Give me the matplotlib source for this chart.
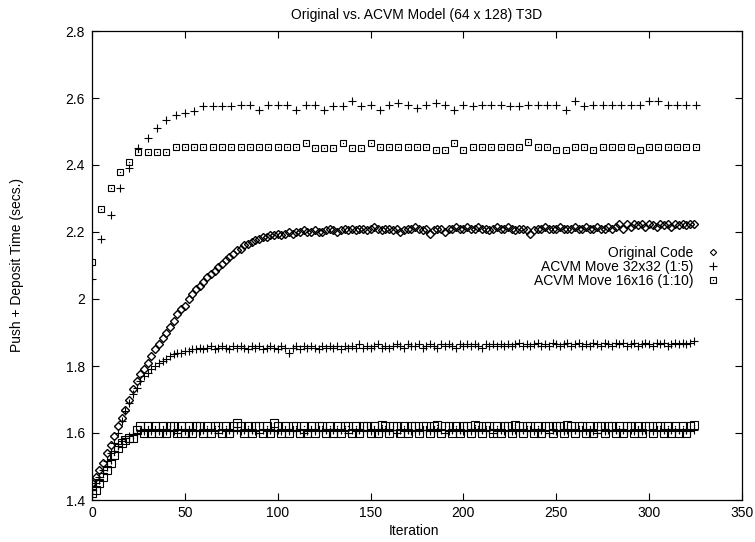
import numpy as np
import matplotlib
matplotlib.use("Agg")
import matplotlib.pyplot as plt
from matplotlib.lines import Line2D

plt.rcParams["font.family"] = ["Liberation Sans", "DejaVu Sans"]

### data
# dense runs are sampled every 2 iterations, the sparse runs every 5
iter_dense = np.arange(0, 326, 2)
iter_sparse = np.arange(0, 330, 5)

original_code = [
    1.45, 1.47, 1.49, 1.51, 1.54, 1.565, 1.59, 1.62, 1.645, 1.67,
    1.70, 1.73, 1.755, 1.775, 1.79, 1.81, 1.83, 1.85, 1.865, 1.885,
    1.90, 1.915, 1.935, 1.955, 1.97, 1.98, 2.00, 2.015, 2.03, 2.04,
    2.05, 2.065, 2.075, 2.085, 2.095, 2.105, 2.115, 2.125, 2.135, 2.145,
    2.15, 2.16, 2.165, 2.17, 2.175, 2.18, 2.185, 2.185, 2.19, 2.19,
    2.195, 2.19, 2.195, 2.20, 2.195, 2.20, 2.20, 2.205, 2.20, 2.20,
    2.205, 2.20, 2.20, 2.205, 2.21, 2.205, 2.20, 2.205, 2.21, 2.205,
    2.21, 2.205, 2.21, 2.21, 2.205, 2.21, 2.215, 2.21, 2.205, 2.21,
    2.21, 2.205, 2.21, 2.20, 2.205, 2.21, 2.21, 2.215, 2.21, 2.205,
    2.21, 2.195, 2.205, 2.21, 2.21, 2.20, 2.21, 2.21, 2.215, 2.21,
    2.21, 2.215, 2.21, 2.21, 2.215, 2.21, 2.21, 2.205, 2.21, 2.215,
    2.21, 2.21, 2.215, 2.21, 2.205, 2.21, 2.21, 2.205, 2.195, 2.205,
    2.21, 2.21, 2.215, 2.21, 2.21, 2.21, 2.215, 2.21, 2.21, 2.21,
    2.215, 2.21, 2.21, 2.215, 2.21, 2.21, 2.215, 2.21, 2.21, 2.215,
    2.21, 2.215, 2.225, 2.21, 2.225, 2.215, 2.225, 2.22, 2.225, 2.215,
    2.225, 2.22, 2.215, 2.225, 2.22, 2.225, 2.215, 2.225, 2.22, 2.225,
    2.22, 2.225, 2.225,
]

move32_low = [
    1.43, 1.45, 1.47, 1.49, 1.515, 1.54, 1.57, 1.60, 1.635, 1.665,
    1.69, 1.715, 1.735, 1.755, 1.77, 1.78, 1.79, 1.80, 1.81, 1.815,
    1.82, 1.83, 1.835, 1.84, 1.84, 1.845, 1.845, 1.85, 1.85, 1.855,
    1.85, 1.855, 1.86, 1.85, 1.855, 1.86, 1.855, 1.85, 1.86, 1.855,
    1.86, 1.855, 1.85, 1.86, 1.855, 1.86, 1.85, 1.855, 1.86, 1.855,
    1.85, 1.86, 1.855, 1.84, 1.855, 1.86, 1.85, 1.86, 1.855, 1.86,
    1.855, 1.85, 1.86, 1.855, 1.86, 1.855, 1.86, 1.85, 1.86, 1.855,
    1.86, 1.855, 1.865, 1.855, 1.86, 1.855, 1.86, 1.865, 1.855, 1.86,
    1.855, 1.86, 1.865, 1.86, 1.855, 1.865, 1.86, 1.86, 1.865, 1.855,
    1.86, 1.865, 1.86, 1.855, 1.865, 1.86, 1.865, 1.86, 1.855, 1.865,
    1.86, 1.865, 1.86, 1.865, 1.86, 1.855, 1.865, 1.86, 1.865, 1.86,
    1.865, 1.86, 1.865, 1.86, 1.865, 1.87, 1.86, 1.865, 1.86, 1.865,
    1.87, 1.86, 1.865, 1.86, 1.87, 1.865, 1.86, 1.865, 1.87, 1.86,
    1.865, 1.87, 1.86, 1.865, 1.86, 1.87, 1.865, 1.86, 1.87, 1.865,
    1.86, 1.87, 1.865, 1.87, 1.86, 1.865, 1.87, 1.86, 1.865, 1.87,
    1.865, 1.86, 1.87, 1.865, 1.87, 1.86, 1.865, 1.87, 1.865, 1.87,
    1.865, 1.87, 1.875,
]

move16_low = [
    1.42, 1.43, 1.45, 1.47, 1.49, 1.51, 1.535, 1.555, 1.57, 1.58,
    1.585, 1.585, 1.61, 1.62, 1.60, 1.62, 1.60, 1.62, 1.60, 1.62,
    1.60, 1.62, 1.62, 1.60, 1.62, 1.60, 1.62, 1.60, 1.62, 1.62,
    1.60, 1.62, 1.60, 1.62, 1.62, 1.60, 1.62, 1.60, 1.62, 1.63,
    1.62, 1.60, 1.62, 1.60, 1.62, 1.62, 1.60, 1.62, 1.60, 1.63,
    1.62, 1.60, 1.62, 1.60, 1.62, 1.62, 1.60, 1.62, 1.60, 1.62,
    1.60, 1.62, 1.62, 1.60, 1.62, 1.60, 1.62, 1.60, 1.62, 1.62,
    1.60, 1.62, 1.60, 1.62, 1.62, 1.60, 1.62, 1.60, 1.625, 1.62,
    1.60, 1.62, 1.62, 1.60, 1.62, 1.60, 1.62, 1.62, 1.60, 1.62,
    1.62, 1.60, 1.62, 1.625, 1.60, 1.62, 1.62, 1.60, 1.62, 1.60,
    1.62, 1.62, 1.60, 1.625, 1.62, 1.60, 1.62, 1.62, 1.60, 1.62,
    1.60, 1.62, 1.62, 1.60, 1.625, 1.62, 1.60, 1.62, 1.62, 1.60,
    1.62, 1.60, 1.62, 1.62, 1.60, 1.62, 1.62, 1.60, 1.625, 1.62,
    1.60, 1.62, 1.62, 1.60, 1.62, 1.60, 1.62, 1.62, 1.60, 1.62,
    1.62, 1.60, 1.62, 1.60, 1.62, 1.62, 1.60, 1.62, 1.60, 1.62,
    1.62, 1.60, 1.62, 1.62, 1.60, 1.62, 1.60, 1.62, 1.60, 1.62,
    1.60, 1.62, 1.625,
]

plus_in_low_band = [
    1.43, 1.44, 1.46, 1.48, 1.50, 1.52, 1.545, 1.56, 1.575, 1.585,
    1.59, 1.595, 1.60, 1.605, 1.605, 1.61, 1.605, 1.61, 1.605, 1.61,
    1.605, 1.61, 1.605, 1.60, 1.61, 1.605, 1.61, 1.605, 1.61, 1.605,
    1.61, 1.605, 1.61, 1.605, 1.60, 1.61, 1.605, 1.61, 1.605, 1.61,
    1.605, 1.61, 1.605, 1.61, 1.605, 1.60, 1.61, 1.605, 1.61, 1.605,
    1.61, 1.605, 1.61, 1.605, 1.61, 1.605, 1.61, 1.60, 1.605, 1.61,
    1.605, 1.61, 1.605, 1.61, 1.605, 1.61, 1.605, 1.61, 1.605, 1.60,
    1.61, 1.605, 1.61, 1.605, 1.61, 1.605, 1.61, 1.605, 1.61, 1.605,
    1.605, 1.61, 1.60, 1.61, 1.605, 1.61, 1.605, 1.61, 1.605, 1.61,
    1.61, 1.605, 1.61, 1.605, 1.61, 1.60, 1.605, 1.61, 1.605, 1.61,
    1.605, 1.61, 1.605, 1.61, 1.605, 1.61, 1.605, 1.61, 1.60, 1.605,
    1.61, 1.605, 1.61, 1.605, 1.61, 1.605, 1.61, 1.605, 1.61, 1.605,
    1.605, 1.61, 1.605, 1.60, 1.61, 1.605, 1.61, 1.605, 1.61, 1.605,
    1.61, 1.605, 1.61, 1.605, 1.61, 1.605, 1.60, 1.61, 1.605, 1.61,
    1.605, 1.61, 1.605, 1.61, 1.605, 1.61, 1.605, 1.61, 1.605, 1.61,
    1.61, 1.605, 1.61, 1.605, 1.61, 1.605, 1.61, 1.605, 1.61, 1.605,
    1.61, 1.605, 1.61,
]

move32_high = [
    2.06, 2.18, 2.25, 2.33, 2.39, 2.45, 2.48, 2.51, 2.535, 2.55,
    2.555, 2.56, 2.575, 2.575, 2.575, 2.575, 2.58, 2.58, 2.565, 2.58,
    2.58, 2.58, 2.565, 2.58, 2.58, 2.565, 2.575, 2.575, 2.59, 2.575,
    2.58, 2.565, 2.58, 2.585, 2.58, 2.57, 2.58, 2.585, 2.58, 2.565,
    2.58, 2.575, 2.58, 2.58, 2.58, 2.575, 2.575, 2.58, 2.58, 2.58,
    2.58, 2.565, 2.59, 2.575, 2.58, 2.58, 2.58, 2.58, 2.58, 2.58,
    2.59, 2.59, 2.58, 2.58, 2.58, 2.58,
]

move16_high = [
    2.11, 2.27, 2.33, 2.38, 2.41, 2.44, 2.44, 2.44, 2.44, 2.455,
    2.455, 2.455, 2.455, 2.455, 2.455, 2.455, 2.455, 2.455, 2.455, 2.455,
    2.455, 2.455, 2.455, 2.465, 2.45, 2.45, 2.45, 2.465, 2.45, 2.45,
    2.465, 2.455, 2.455, 2.455, 2.455, 2.455, 2.455, 2.445, 2.445, 2.465,
    2.445, 2.455, 2.455, 2.455, 2.455, 2.455, 2.455, 2.47, 2.455, 2.455,
    2.445, 2.445, 2.455, 2.455, 2.445, 2.455, 2.455, 2.455, 2.455, 2.445,
    2.455, 2.455, 2.455, 2.455, 2.455, 2.455,
]

labels = ["Original Code", "ACVM Move 32x32 (1:5)", "ACVM Move 16x16 (1:10)"]


def square_points(ax, x, y, ms):
    # gnuplot style box with a dot in the middle
    ax.plot(x, y, ls="none", marker="s", ms=ms, mfc="none", mec="k", mew=0.8)
    ax.plot(x, y, ls="none", marker="o", ms=1.0, mfc="k", mec="k", mew=0)


def main():
    fig = plt.figure(figsize=(7.55, 5.42), dpi=100)
    ax = fig.add_axes([92 / 755, 42 / 542, 650 / 755, 469 / 542])

    square_points(ax, iter_dense, move16_low, 5.8)
    ax.plot(iter_dense, plus_in_low_band, ls="none", marker="+", ms=5.5, mec="k", mew=0.8)
    ax.plot(iter_dense, move32_low, ls="none", marker="+", ms=6, mec="k", mew=0.8)
    ax.plot(iter_dense, original_code, ls="none", marker="D", ms=4.3,
            mfc="none", mec="k", mew=1.0)
    ax.plot(iter_sparse, move32_high, ls="none", marker="+", ms=6, mec="k", mew=0.8)
    square_points(ax, iter_sparse, move16_high, 5)

    ax.set_xlim(0, 350)
    ax.set_ylim(1.4, 2.8)
    ax.set_xticks(range(0, 351, 50))
    ax.set_yticks([1.4, 1.6, 1.8, 2.0, 2.2, 2.4, 2.6, 2.8])
    ax.set_yticklabels(["1.4", "1.6", "1.8", "2", "2.2", "2.4", "2.6", "2.8"])
    ax.tick_params(direction="in", length=5, width=0.8, top=True, right=True,
                   labelsize=10, colors="k")
    ax.tick_params(axis="x", pad=4)
    ax.tick_params(axis="y", pad=5)
    for sp in ax.spines.values():
        sp.set_linewidth(0.9)

    ax.set_title("Original vs. ACVM Model (64 x 128) T3D", fontsize=10, pad=9)
    ax.set_xlabel("Iteration", fontsize=10)
    ax.set_ylabel("Push + Deposit Time (secs.)", fontsize=10)
    ax.xaxis.set_label_coords((414 - 92) / 650, (500 - 524) / 469)
    ax.yaxis.set_label_coords((24 - 92) / 650, 0.5)

    # legend entries (markers on the right, like gnuplot)
    h_diam = Line2D([], [], ls="none", marker="D", ms=3.2, mfc="none", mec="k", mew=0.8)
    h_plus = Line2D([], [], ls="none", marker="+", ms=6, mec="k", mew=0.8)
    h_box = Line2D([], [], ls="none", marker="s", ms=4.5, mfc="none", mec="k", mew=0.8)
    h_dot = Line2D([], [], ls="none", marker="o", ms=1.0, mfc="k", mec="k", mew=0)
    ax.legend([h_diam, h_plus, (h_box, h_dot)], labels,
              loc="upper right", bbox_to_anchor=((720 - 92) / 650, (500 - 246) / 469),
              frameon=False, markerfirst=False, fontsize=10,
              handlelength=1.0, handletextpad=0.9, labelspacing=0.0,
              borderpad=0, borderaxespad=0)

    fig.savefig("out.png", dpi=100)


if __name__ == "__main__":
    main()
